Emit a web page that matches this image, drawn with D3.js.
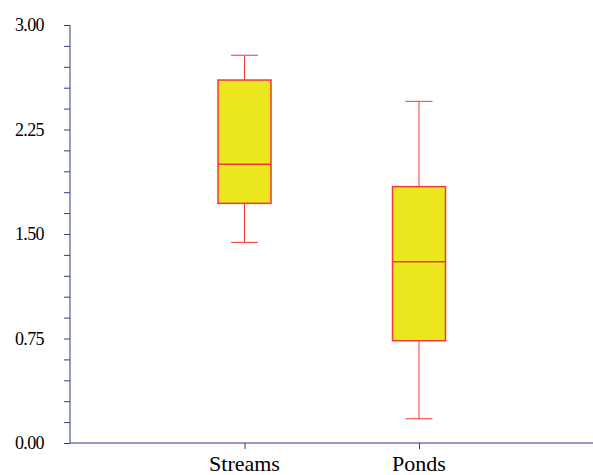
<!DOCTYPE html>
<html>
<head>
<meta charset="utf-8">
<script src="https://cdn.jsdelivr.net/npm/d3@7"></script>
</head>
<body style="margin:0">
<svg id="chart" width="593" height="475" font-family="Liberation Serif"></svg>
<script>
const categories = ["Streams", "Ponds"];
const whiskerLow  = [1.44, 0.174];
const q1          = [1.72, 0.734];
const medians     = [2.00, 1.30];
const q3          = [2.605, 1.84];
const whiskerHigh = [2.783, 2.452];
const yTickLabels = ["0.00", "0.75", "1.50", "2.25", "3.00"];
const yMinorStep = 0.15;

const svg = d3.select("#chart");
const mLeft = 70, mRight = 593.5, mTop = 25, mBottom = 443;
const fontName = "Liberation Serif";

const x = d3.scaleLinear().domain([0, categories.length + 1]).range([mLeft, mRight]);
const y = d3.scaleLinear().domain([0, 3]).range([mBottom, mTop]);

const axisColor = "#2f3b86";
const fill = "#ebe61e";
const stroke = "#f03a3a";
const boxW = 53;
const capW = 27;

// Y axis with minor ticks
const minorTicks = d3.range(0, 3 + 1e-9, yMinorStep).map(v => +v.toFixed(2));
const yAxis = d3.axisLeft(y).tickValues(minorTicks).tickSize(6).tickFormat("");
const gy = svg.append("g").attr("transform", `translate(${mLeft},0)`).call(yAxis);
gy.attr("font-family", fontName);
gy.select(".domain").attr("stroke", "#5a68a8").attr("stroke-width", 1.3).attr("d", `M0,${mTop}V${mBottom}`);
gy.selectAll(".tick line").attr("stroke", axisColor);

// X axis
const xAxis = d3.axisBottom(x).tickValues(categories.map((c, i) => i + 1)).tickSize(6).tickFormat("");
const gx = svg.append("g").attr("transform", `translate(0,${mBottom})`).call(xAxis);
gx.attr("font-family", fontName);
gx.select(".domain").attr("stroke", axisColor).attr("stroke-width", 1.2).attr("d", `M${mLeft},0H${mRight}`);
gx.selectAll(".tick line").attr("stroke", axisColor);

svg.selectAll("text.ylab").data(yTickLabels).join("text")
  .attr("class", "ylab")
  .attr("x", 44).attr("y", d => y(+d) + 6)
  .attr("text-anchor", "end")
  .attr("font-family", fontName)
  .style("font-family", `"${fontName}"`).style("font-size", "18px").style("letter-spacing", "-0.6px")
  .attr("fill", "#000")
  .text(d => d);

svg.selectAll("text.xlab").data(categories).join("text")
  .attr("class", "xlab")
  .attr("x", (d, i) => x(i + 1)).attr("y", 471)
  .attr("text-anchor", "middle")
  .attr("font-family", fontName)
  .style("font-family", `"${fontName}"`).style("font-size", "22px")
  .attr("fill", "#000")
  .text(d => d);

// Boxes
const g = svg.append("g");
categories.forEach((c, i) => {
  const cx = x(i + 1);
  g.append("line").attr("x1", cx).attr("x2", cx).attr("y1", y(whiskerHigh[i])).attr("y2", y(q3[i]))
    .attr("stroke", stroke).attr("stroke-width", 1);
  g.append("line").attr("x1", cx).attr("x2", cx).attr("y1", y(q1[i])).attr("y2", y(whiskerLow[i]))
    .attr("stroke", stroke).attr("stroke-width", 1);
  g.append("line").attr("x1", cx - capW / 2).attr("x2", cx + capW / 2).attr("y1", y(whiskerHigh[i])).attr("y2", y(whiskerHigh[i]))
    .attr("stroke", stroke).attr("stroke-width", 1);
  g.append("line").attr("x1", cx - capW / 2).attr("x2", cx + capW / 2).attr("y1", y(whiskerLow[i])).attr("y2", y(whiskerLow[i]))
    .attr("stroke", stroke).attr("stroke-width", 1);
  g.append("rect").attr("x", cx - boxW / 2).attr("width", boxW)
    .attr("y", y(q3[i])).attr("height", y(q1[i]) - y(q3[i]))
    .attr("fill", fill).attr("stroke", stroke).attr("stroke-width", 1.5);
  g.append("line").attr("x1", cx - boxW / 2).attr("x2", cx + boxW / 2).attr("y1", y(medians[i])).attr("y2", y(medians[i]))
    .attr("stroke", stroke).attr("stroke-width", 1.5);
});
</script>
</body>
</html>
